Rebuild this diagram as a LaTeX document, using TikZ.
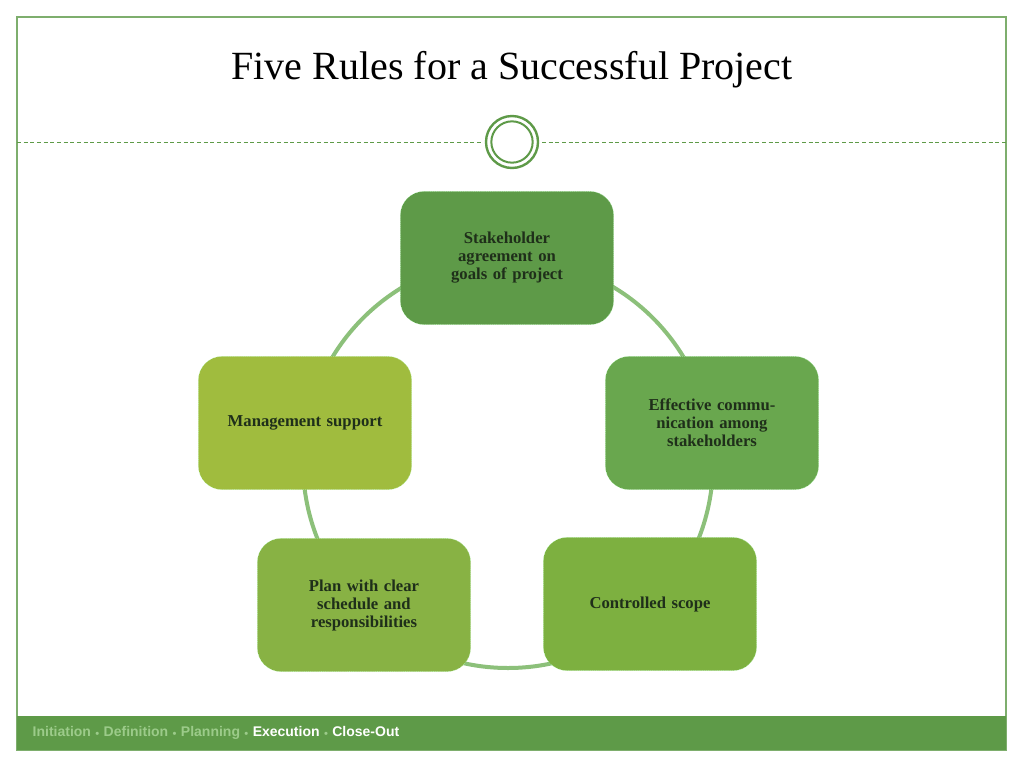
\documentclass[tikz,border=0pt]{standalone}
\usepackage{fontspec}
\setmainfont{Liberation Serif}
\newfontfamily\footfont{Liberation Sans}
\definecolor{frame}{HTML}{5E9A48}
\definecolor{ring}{HTML}{8CC07A}
\definecolor{cA}{HTML}{5E9A48}
\definecolor{cB}{HTML}{69A74E}
\definecolor{cC}{HTML}{A0BC3E}
\definecolor{cD}{HTML}{7DB040}
\definecolor{cE}{HTML}{88B244}
\definecolor{txt}{HTML}{1F2F1A}
\definecolor{foot}{HTML}{9CCB8A}
\tikzset{box/.style={rounded corners=18pt,minimum width=160pt,minimum height=100pt,draw=white!70!green,densely dotted,text width=120pt,align=center,font=\bfseries\fontsize{12.5}{13.5}\selectfont,text=txt}}
\begin{document}
\begin{tikzpicture}[x=0.75pt,y=-0.75pt]
\useasboundingbox (0,0) rectangle (1024,768);
\fill[white] (0,0) rectangle (1024,768);
\draw[frame!80,line width=0.8pt] (17,17) rectangle (1006,750);
\node (title) at (512,70) {\fontsize{30}{36}\selectfont Five Rules for a Successful Project};
\draw[frame,densely dashed,line width=0.6pt] (17,142) -- (482,142);
\draw[frame,densely dashed,line width=0.6pt] (542,142) -- (1006,142);
\node (ring1) [circle,draw=frame,line width=1.8pt,minimum size=39pt] at (512,142) {};
\node (ring2) [circle,draw=frame,line width=1.5pt,minimum size=31pt] at (512,142) {};
\draw[ring,line width=3pt] (508,463) circle[radius=153.75pt];
\node[box,fill=cA] (a) at (507,258) {Stakeholder agreement on goals of project};
\node[box,fill=cB] (b) at (712,423) {Effective communication among stakeholders};
\node[box,fill=cC,text width=150pt] (c) at (305,423) {Management support};
\node[box,fill=cD,text width=150pt] (d) at (650,604) {Controlled scope};
\node[box,fill=cE] (e) at (364,605) {Plan with clear schedule and responsibilities};
\fill[frame] (17,716) rectangle (1006,750);
\node[anchor=west,font=\footfont\bfseries\fontsize{10.5}{12}\selectfont] (ft) at (28,733)
 {\textcolor{foot}{Initiation \raisebox{1pt}{\tiny$\bullet$} Definition \raisebox{1pt}{\tiny$\bullet$} Planning \raisebox{1pt}{\tiny$\bullet$}} \textcolor{white}{Execution} \textcolor{foot}{\raisebox{1pt}{\tiny$\bullet$}} \textcolor{white}{Close-Out}};
\end{tikzpicture}
\end{document}
